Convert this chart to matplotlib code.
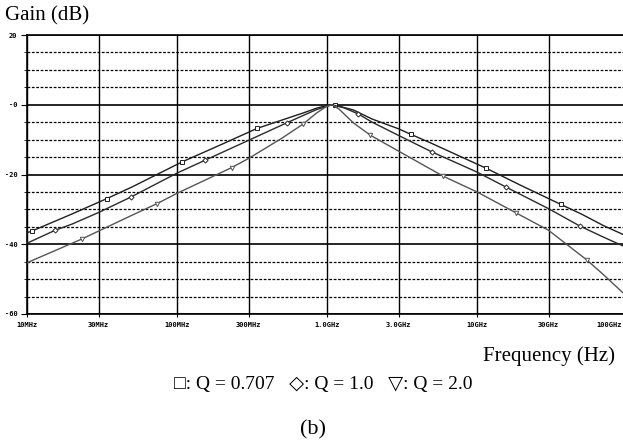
import matplotlib
matplotlib.use("Agg")
import matplotlib.pyplot as plt
import numpy as np

# ---- data ----
freq_q0707 = [10e6, 10.8e6, 20e6, 34.1e6, 50e6, 108e6, 200e6, 341e6, 500e6, 700e6, 850e6,
              1.0e9, 1.13e9, 1.5e9, 2.0e9, 3.0e9, 3.63e9, 5e9, 11.5e9, 20e9, 36.3e9, 50e9, 70e9, 100e9]
gain_q0707 = [-36.7, -36.2, -31.3, -26.9, -23.6, -16.4, -11.3, -6.8, -4.4, -2.3, -1.0,
              -0.2, -0.1, -1.5, -4.1, -6.9, -8.5, -11.1, -18.2, -23.3, -28.6, -31.4, -34.7, -37.7]
mark_q0707 = [10.8e6, 34.1e6, 108e6, 341e6, 1.13e9, 3.63e9, 11.5e9, 36.3e9]

freq_q1 = [10e6, 15.4e6, 20e6, 30e6, 49.1e6, 100e6, 154e6, 300e6, 538e6, 700e6, 850e6,
           1.08e9, 1.3e9, 1.61e9, 2.0e9, 3.0e9, 4.99e9, 10e9, 15.6e9, 30e9, 48.6e9, 70e9, 100e9]
gain_q1 = [-39.7, -36.0, -34.2, -30.9, -26.5, -19.6, -15.9, -10.2, -5.2, -3.0, -1.4,
           0.0, -0.9, -2.6, -5.0, -8.8, -13.5, -19.3, -23.6, -29.8, -34.8, -38.0, -41.0]
mark_q1 = [15.4e6, 49.1e6, 154e6, 538e6, 1.61e9, 4.99e9, 15.6e9, 48.6e9]

freq_q2 = [10e6, 23.2e6, 50e6, 73.2e6, 100e6, 232e6, 300e6, 500e6, 695e6, 850e6, 1.0e9,
           1.08e9, 1.2e9, 1.5e9, 1.94e9, 3.0e9, 5.96e9, 10e9, 18.2e9, 30e9, 54.3e9, 70e9, 100e9]
gain_q2 = [-45.3, -38.5, -31.7, -28.4, -25.4, -18.0, -15.4, -9.6, -5.5, -2.4, -0.4,
           0.0, -1.2, -5.2, -8.7, -13.3, -20.5, -25.0, -31.0, -36.0, -44.6, -48.8, -55.0]
mark_q2 = [23.2e6, 73.2e6, 232e6, 695e6, 1.94e9, 5.96e9, 18.2e9, 54.3e9]

xtick_vals = [10e6, 30e6, 100e6, 300e6, 1e9, 3e9, 10e9, 30e9, 100e9]
xtick_labels = ["10MHz", "30MHz", "100MHz", "300MHz", "1.0GHz", "3.0GHz", "10GHz", "30GHz", "100GHz"]
ytick_vals = [20, 0, -20, -40, -60]
ytick_labels = ["20", "-0", "-20", "-40", "-60"]
ytick_minor = [15, 10, 5, -5, -10, -15, -25, -30, -35, -45, -50, -55]

# ---- figure ----
W, H = 623, 445
fig = plt.figure(figsize=(W / 100, H / 100), dpi=100)
left, right, top, bottom = 27, 627, 35, 314
ax = fig.add_axes([left / W, 1 - bottom / H, (right - left) / W, (bottom - top) / H])
ax.set_xscale("log")
ax.set_xlim(10e6, 100e9)
ax.set_ylim(-60, 20)

# grid
for y in ytick_vals:
    ax.axhline(y, color="black", lw=1.2, zorder=1)
for y in ytick_minor:
    ax.axhline(y, color="black", lw=0.9, ls=(0, (2.2, 1.3)), zorder=1)
for x in xtick_vals:
    ax.axvline(x, color="black", lw=1.0, zorder=1)

def marks_idx(freqs, marks):
    return [i for i, f in enumerate(freqs) if f in marks]

ax.plot(freq_q0707, gain_q0707, color="#1e1e1e", lw=1.0, marker="s", ms=3.2, mfc="white",
        mec="#1e1e1e", mew=0.7, markevery=marks_idx(freq_q0707, mark_q0707), zorder=3)
ax.plot(freq_q1, gain_q1, color="#2a2a2a", lw=1.0, marker="D", ms=2.6, mfc="white",
        mec="#2a2a2a", mew=0.7, markevery=marks_idx(freq_q1, mark_q1), zorder=3)
ax.plot(freq_q2, gain_q2, color="#555555", lw=1.0, marker="v", ms=3.2, mfc="white",
        mec="#555555", mew=0.7, markevery=marks_idx(freq_q2, mark_q2), zorder=3)

# ticks
tick_font = dict(fontsize=5, family="DejaVu Sans Mono", fontweight="bold")
ax.set_xticks(xtick_vals)
ax.set_xticklabels(xtick_labels[:-1] + [""], **tick_font)
ax.annotate(xtick_labels[-1], xy=(xtick_vals[-1], -60), xycoords="data",
            xytext=(-4, -6), textcoords="offset points", ha="right", va="top",
            annotation_clip=False, **tick_font)
ax.xaxis.set_minor_locator(matplotlib.ticker.NullLocator())
ax.set_yticks(ytick_vals)
ax.set_yticklabels(ytick_labels, **tick_font)
ax.set_yticks(ytick_minor, minor=True)
ax.tick_params(axis="y", which="major", direction="out", length=4, width=0.8, pad=3)
ax.tick_params(axis="y", which="minor", direction="out", length=2, width=0.6)
ax.tick_params(axis="x", which="major", direction="inout", length=4, width=0.8, pad=4)
for s in ["left", "bottom", "top"]:
    ax.spines[s].set_linewidth(1.2)
ax.spines["right"].set_visible(False)

serif = ["Liberation Serif", "DejaVu Serif"]
fig.text(5 / W, 1 - 16 / H, "Gain (dB)", family=serif, fontsize=15, ha="left", va="center")
fig.text(615 / W, 1 - 356 / H, "Frequency (Hz)", family=serif, fontsize=15, ha="right", va="center")
fig.text(323 / W, 1 - 384 / H, "\u25a1: Q = 0.707   \u25c7: Q = 1.0   \u25bd: Q = 2.0",
         family=serif, fontsize=14, ha="center", va="center")
fig.text(313 / W, 1 - 430 / H, "(b)", family=serif, fontsize=16, ha="center", va="center")

fig.savefig("out.png", dpi=100)
